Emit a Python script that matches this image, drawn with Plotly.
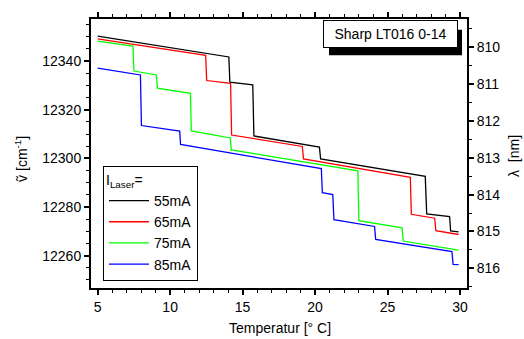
import plotly.graph_objects as go

# Mode-hop tuning curves: wavenumber vs. temperature for four laser currents
temp_55 = [5.0, 14.05, 14.12, 15.70, 15.78, 20.30, 20.38, 27.60, 27.70, 29.28, 29.35, 29.9]
nu_55 = [12350.3, 12341.7, 12331.3, 12330.2, 12309.2, 12304.6, 12299.8, 12292.6, 12277.2, 12276.1, 12270.2, 12269.8]

temp_65 = [5.0, 12.45, 12.52, 14.17, 14.24, 19.12, 19.20, 26.57, 26.64, 28.25, 28.33, 29.9]
nu_65 = [12349.1, 12342.4, 12332.0, 12330.8, 12309.6, 12304.9, 12299.8, 12292.2, 12277.0, 12275.4, 12270.3, 12268.7]

temp_75 = [5.0, 7.44, 7.50, 9.05, 9.12, 11.40, 11.46, 14.15, 14.22, 22.95, 23.02, 26.00, 26.08, 29.9]
nu_75 = [12348.2, 12346.2, 12335.9, 12334.3, 12328.9, 12326.7, 12311.3, 12308.4, 12303.5, 12294.9, 12274.4, 12271.4, 12266.0, 12262.3]

temp_85 = [5.0, 7.95, 8.02, 10.66, 10.72, 20.43, 20.50, 21.22, 21.30, 24.10, 24.18, 29.44, 29.52, 29.9]
nu_85 = [12337.1, 12334.3, 12313.5, 12311.2, 12305.7, 12295.8, 12285.9, 12285.1, 12274.8, 12272.0, 12266.7, 12261.7, 12256.4, 12256.3]

series_names = ["55mA", "65mA", "75mA", "85mA"]
series_colors = ["#000000", "#ff0000", "#00ff00", "#0000ff"]
series_x = [temp_55, temp_65, temp_75, temp_85]
series_y = [nu_55, nu_65, nu_75, nu_85]

# Axis ranges and wavelength ticks for the secondary (right) axis
x_range = [4.54, 30.48]
nu_range = [12246.7, 12357.3]
lambda_major = [810, 811, 812, 813, 814, 815, 816]
lambda_minor = [809.5, 810.5, 811.5, 812.5, 813.5, 814.5, 815.5, 816.5]

FONT = "Arial, Liberation Sans, sans-serif"

fig = go.Figure()
for name, color, xs, ys in zip(series_names, series_colors, series_x, series_y):
    fig.add_trace(go.Scatter(x=xs, y=ys, mode="lines", name=name,
                             line=dict(color=color, width=1.3)))

# invisible trace that binds the wavelength axis
fig.add_trace(go.Scatter(x=[x_range[0]], y=[nu_range[0]], yaxis="y2", mode="markers",
                         marker=dict(opacity=0), showlegend=False, hoverinfo="skip"))

L, R, T, B = 91, 57, 13, 51
W, H = 524, 339
pw, ph = W - L - R, H - T - B

def px_x(px):
    return (px - L) / pw

def px_y(py):
    return (H - B - py) / ph

axis_common = dict(showline=True, linecolor="black", linewidth=2, ticks="outside",
                   ticklen=5, tickwidth=1.5, tickcolor="black", showgrid=False,
                   zeroline=False, tickfont=dict(family=FONT, size=14, color="black"))

fig.update_layout(
    width=W, height=H,
    margin=dict(l=L, r=R, t=T, b=B),
    paper_bgcolor="white", plot_bgcolor="white",
    font=dict(family=FONT, size=14, color="black"),
    xaxis=dict(range=x_range, dtick=5, tick0=5, mirror="ticks",
               minor=dict(dtick=1, ticks="outside", ticklen=3, tickwidth=1, tickcolor="black"),
               **axis_common),
    yaxis=dict(range=nu_range, dtick=20, tick0=12260, mirror=True, tickformat="d",
               minor=dict(dtick=5, ticks="outside", ticklen=3, tickwidth=1, tickcolor="black"),
               **axis_common),
    yaxis2=dict(range=nu_range, overlaying="y", side="right",
                tickmode="array", tickvals=[1e7 / v for v in lambda_major],
                ticktext=[str(v) for v in lambda_major],
                minor=dict(tickmode="array", tickvals=[1e7 / v for v in lambda_minor],
                           ticks="outside", ticklen=3, tickwidth=1, tickcolor="black"),
                **axis_common),
    showlegend=True,
    legend=dict(x=px_x(103), y=px_y(163), xanchor="left", yanchor="top",
                bgcolor="white", bordercolor="black", borderwidth=1,
                font=dict(family=FONT, size=14, color="black"),
                title=dict(text="I<sub>Laser</sub>=", font=dict(family=FONT, size=14)),
                itemwidth=40, tracegroupgap=0),
)

# Label box with drop shadow
fig.add_shape(type="rect", xref="paper", yref="paper",
              x0=px_x(329), x1=px_x(462), y0=px_y(50), y1=px_y(24),
              fillcolor="black", line=dict(width=0), layer="above")
fig.add_annotation(xref="paper", yref="paper", x=px_x(390.5), y=px_y(28),
                   xanchor="center", yanchor="middle",
                   text="Sharp LT016 0-14", showarrow=False,
                   font=dict(family=FONT, size=14, color="black"),
                   bgcolor="white", bordercolor="black", borderwidth=1,
                   borderpad=4, width=125, height=18)

# Axis titles
fig.add_annotation(xref="paper", yref="paper", x=px_x(280), y=px_y(329),
                   xanchor="center", yanchor="middle",
                   text="Temperatur [° C]", showarrow=False,
                   font=dict(family=FONT, size=14, color="black"))
fig.add_annotation(xref="paper", yref="paper", x=px_x(21), y=px_y(156),
                   xanchor="center", yanchor="middle",
                   text="ṽ [cm<sup>-1</sup>]", showarrow=False, textangle=-90,
                   font=dict(family=FONT, size=14, color="black"))
fig.add_annotation(xref="paper", yref="paper", x=px_x(514), y=px_y(153),
                   xanchor="center", yanchor="middle",
                   text="λ  [nm]", showarrow=False, textangle=-90,
                   font=dict(family=FONT, size=14, color="black"))

fig.write_html("out.html")
